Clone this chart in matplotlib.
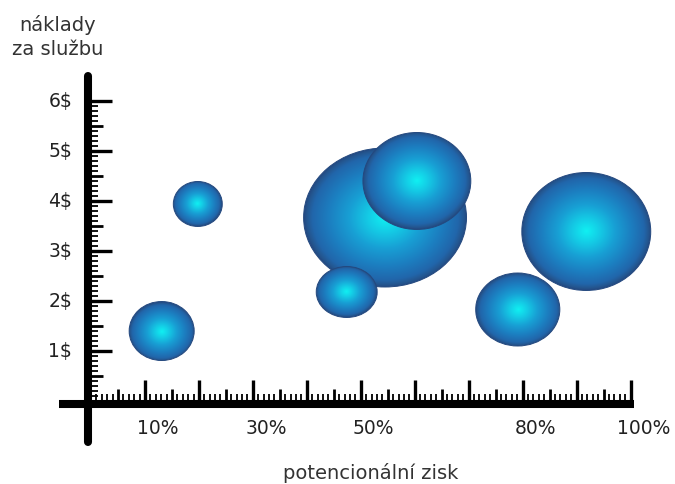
import numpy as np
import matplotlib
matplotlib.use("Agg")
import matplotlib.pyplot as plt
from matplotlib.patches import Ellipse
from matplotlib.colors import LinearSegmentedColormap
from matplotlib.transforms import ScaledTranslation

# ---- data ----
profit_pct = [13.1, 19.8, 54.5, 47.4, 60.4, 79.1, 91.8]      # potencionální zisk (%)
cost_usd = [1.40, 3.94, 3.67, 2.18, 4.40, 1.83, 3.39]         # náklady za službu ($)
bubble_w = [12.05, 9.08, 30.2, 11.3, 20.0, 15.6, 23.9]        # bubble width (% units)
bubble_h = [1.18, 0.90, 2.78, 1.02, 1.94, 1.46, 2.36]         # bubble height ($ units)

x_tick_vals = [10, 30, 50, 80, 100]
x_tick_labels = ["10%", "30%", "50%", "80%", "100%"]
y_tick_vals = [1, 2, 3, 4, 5, 6]
y_tick_labels = ["1$", "2$", "3$", "4$", "5$", "6$"]
y_title = "náklady\nza službu"
x_title = "potencionální zisk"

# ---- figure ----
W, H, DPI = 675, 484, 100
fig = plt.figure(figsize=(W / DPI, H / DPI), dpi=DPI)
ax = fig.add_axes([0, 0, 1, 1])
ax.set_axis_off()

PX = 5.395   # pixels per 1 %
PY = 50.0    # pixels per 1 $
X0, Y0 = 91, 401  # pixel of origin (from left / from top)

cmap = LinearSegmentedColormap.from_list(
    "bub",
    [(0.0, "#10f0f2"), (0.2, "#14cde6"), (0.45, "#189fd4"),
     (0.7, "#1c7ec0"), (0.9, "#2166ab"), (0.97, "#24568f"), (1.0, "#234b84")])

n = 300
u = np.linspace(-1, 1, n)
U, V = np.meshgrid(u, u)
R = np.clip(np.sqrt(U ** 2 + V ** 2), 0, 1)

for i, (x, y, w, h) in enumerate(zip(profit_pct, cost_usd, bubble_w, bubble_h)):
    z = 3 + i
    im = ax.imshow(R, cmap=cmap, vmin=0, vmax=1, origin="lower",
                   extent=[x - w / 2, x + w / 2, y - h / 2, y + h / 2],
                   interpolation="bilinear", zorder=z)
    ell = Ellipse((x, y), w, h, facecolor="none", edgecolor="#24497f",
                  linewidth=0.7, zorder=z + 0.5)
    ax.add_patch(ell)
    im.set_clip_path(ell)

ax.set_aspect("auto")
ax.set_xlim(-X0 / PX, (W - X0) / PX)
ax.set_ylim((Y0 - H) / PY, Y0 / PY)

# ---- axes lines ----
yaxis_x = -3.0 / PX
xaxis_y = -2.7 / PY
ax.plot([yaxis_x, yaxis_x], [(Y0 - 442) / PY, (Y0 - 76) / PY], color="black",
        lw=5.8, solid_capstyle="round", zorder=20)
ax.plot([(59 - X0) / PX, (634 - X0) / PX], [xaxis_y, xaxis_y], color="black",
        lw=5.8, solid_capstyle="butt", zorder=20)

# x ticks (major / medium / minor)
xv = np.arange(1, 101)
maj = xv[xv % 10 == 0]
med = xv[(xv % 5 == 0) & (xv % 10 != 0)]
mnr = xv[xv % 5 != 0]
ax.vlines(maj, 0, 21 / PY, color="black", lw=2.4, zorder=19)
ax.vlines(med, 0, 12 / PY, color="black", lw=2.0, zorder=19)
ax.vlines(mnr, 0, 7 / PY, color="black", lw=1.3, zorder=19)

# y ticks
yi = np.arange(1, 61)
yv = yi / 10.0
ymaj = yv[yi % 10 == 0]
ymed = yv[(yi % 5 == 0) & (yi % 10 != 0)]
ymnr = yv[yi % 5 != 0]
ax.hlines(ymaj, 0, 21 / PX, color="black", lw=2.4, zorder=19)
ax.hlines(ymed, 0, 12 / PX, color="black", lw=2.0, zorder=19)
ax.hlines(ymnr, 0, 7 / PX, color="black", lw=1.3, zorder=19)

# ---- labels ----
lab_kw = dict(fontsize=13.5, color="#222222", family="DejaVu Sans")
for v, t in zip(x_tick_vals, x_tick_labels):
    ax.text(v, xaxis_y, t, ha="center", va="center",
            transform=ax.transData + ScaledTranslation(13 / DPI, -25 / DPI, fig.dpi_scale_trans),
            **lab_kw)
for v, t in zip(y_tick_vals, y_tick_labels):
    ax.text(0, v, t, ha="right", va="center",
            transform=ax.transData + ScaledTranslation(-19 / DPI, 0, fig.dpi_scale_trans),
            **lab_kw)

fig.text(58 / W, 1 - 37 / H, y_title, ha="center", va="center",
         linespacing=1.3, fontsize=14, color="#333333")
fig.text(371 / W, 1 - 473 / H, x_title, ha="center", va="center",
         fontsize=14, color="#333333")

fig.savefig("out.png", dpi=DPI)
